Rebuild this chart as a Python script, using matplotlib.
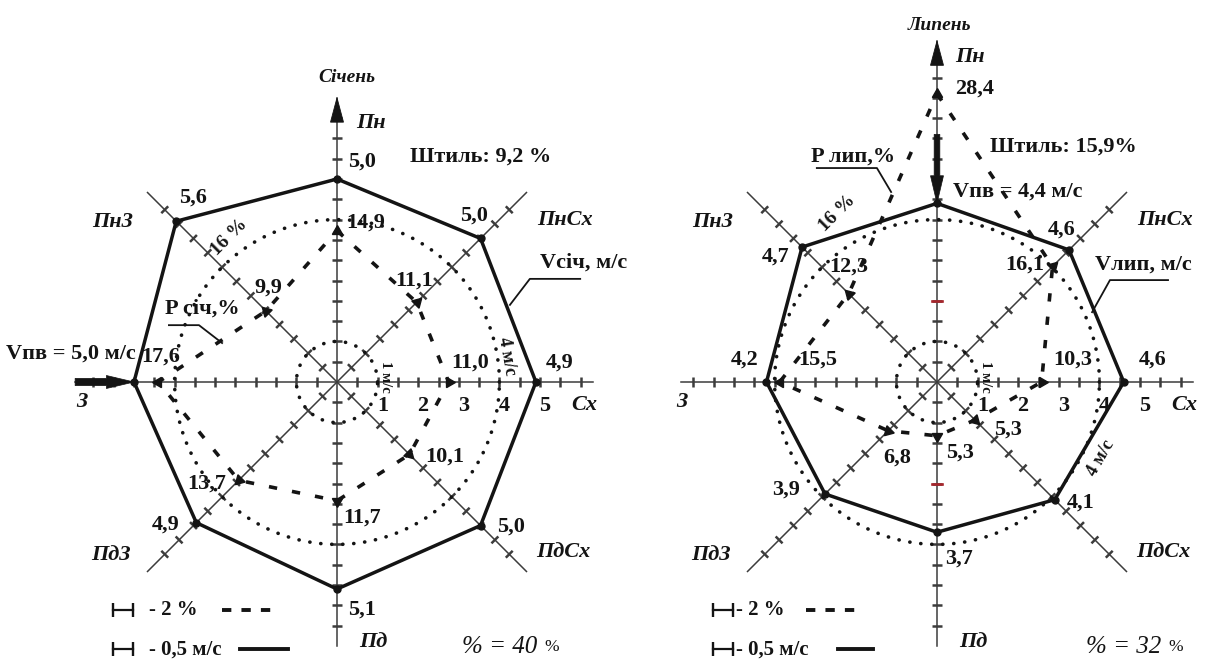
import numpy as np
import matplotlib

matplotlib.use("Agg")
import matplotlib.pyplot as plt
from matplotlib.collections import LineCollection

plt.rcParams["font.family"] = ["Liberation Serif", "DejaVu Serif"]

# wind directions (compass bearings, clockwise from north)
DIRS = ["Пн", "ПнСх", "Сх", "ПдСх", "Пд", "ПдЗ", "З", "ПнЗ"]
BEARINGS = np.arange(0, 360, 45)

# January: mean speed (m/s) and frequency (%) by direction, calm share
JAN_SPEED = [5.0, 5.0, 4.9, 5.0, 5.1, 4.9, 5.0, 5.6]
JAN_FREQ = [14.9, 11.1, 11.0, 10.1, 11.7, 13.7, 17.6, 9.9]
JAN_CALM = 9.2
JAN_PREV = 6          # prevailing wind: west

# July
JUL_SPEED = [4.4, 4.6, 4.6, 4.1, 3.7, 3.9, 4.2, 4.7]
JUL_FREQ = [28.4, 16.1, 10.3, 5.3, 5.3, 6.8, 15.5, 12.3]
JUL_CALM = 15.9
JUL_PREV = 0          # prevailing wind: north

PCT_PER_MS = 4.0      # 2 % of frequency is drawn as long as 0.5 m/s

INK = "#141414"
AXIS = "#3c3c3c"
W, H, CY = 1211, 661, 382
S = 40.6              # pixels per 1 m/s

NUM = dict(fontsize=16, fontweight="bold", color=INK)
DIRF = dict(fontsize=16, fontweight="bold", fontstyle="italic", color=INK)


def pol(r, bearing):
    a = np.deg2rad(bearing)
    return np.asarray(r, float) * np.sin(a), np.asarray(r, float) * np.cos(a)


def comma(v):
    return f"{v:.1f}".replace(".", ",")


def panel_axes(fig, cx, x0, x1):
    ax = fig.add_axes([x0 / W, 0, (x1 - x0) / W, 1])
    ax.set_xlim((x0 - cx) / S, (x1 - cx) / S)
    ax.set_ylim((CY - H) / S, CY / S)
    ax.axis("off")
    return ax


def frame(ax, lay):
    ends = {0: lay["top"], 90: 6.3, 180: 6.5, 270: lay["west"]}
    h = 0.12
    for b in BEARINGS:
        x, y = pol(ends.get(b, 6.6), b)
        ax.plot([0, x], [0, y], color=AXIS, lw=1.1, zorder=2)
        rs = np.arange(0.5, (lay["tick_top"] if b == 0 else 6.0) + 0.01, 0.5)
        px, py = pol(rs, b)
        nx, ny = np.cos(np.deg2rad(b)), -np.sin(np.deg2rad(b))
        segs = [[(u - h * nx, v - h * ny), (u + h * nx, v + h * ny)] for u, v in zip(px, py)]
        ax.add_collection(LineCollection(segs, colors=AXIS, lw=1.8, zorder=2))
    for b, r in lay.get("red_ticks", []):
        x, y = pol(r, b)
        ax.plot([x - h, x + h], [y, y], color="#a8262c", lw=1.9, zorder=3)
    top = lay["top"]
    ax.arrow(0, top - 0.6, 0, 0.6, width=0, head_width=0.32, head_length=0.6,
             length_includes_head=True, fc=INK, ec=INK, lw=0.6, zorder=4)


def draw_panel(ax, speed, freq, calm, prev, lay):
    frame(ax, lay)

    th = np.linspace(0, 2 * np.pi, 400)
    for r in (1, 4):
        ax.plot(r * np.cos(th), r * np.sin(th), color=INK, lw=2.6,
                ls=(0, (0.05, 3.0)), dash_capstyle="round", zorder=3)

    # mean speed polygon
    sx, sy = pol(speed, BEARINGS)
    ax.plot(np.r_[sx, sx[0]], np.r_[sy, sy[0]], color=INK, lw=2.5, zorder=5)
    ax.plot(sx, sy, "o", color=INK, ms=5, zorder=6)

    # frequency polygon
    fx, fy = pol(np.asarray(freq) / PCT_PER_MS, BEARINGS)
    ax.plot(np.r_[fx, fx[0]], np.r_[fy, fy[0]], color=INK, lw=2.6,
            ls=(0, (2.3, 4.2)), zorder=5)
    for x, y, b in zip(fx, fy, BEARINGS):
        ax.plot(x, y, marker=(3, 0, -b), color=INK, ms=8.5, zorder=6)

    for i, (v, x, y) in enumerate(zip(speed, sx, sy)):
        if i != prev:
            ax.annotate(comma(v), (x, y), xytext=lay["spd_off"][i], textcoords="offset pixels",
                        ha="center", va="center", zorder=7, **NUM)
    for f, x, y, off in zip(freq, fx, fy, lay["frq_off"]):
        ax.annotate(comma(f), (x, y), xytext=off, textcoords="offset pixels",
                    ha="center", va="center", zorder=7, **NUM)

    # prevailing wind arrow
    b = BEARINGS[prev]
    x0, y0 = pol(lay["prev_from"], b)
    x1, y1 = pol(speed[prev], b)
    ax.arrow(x0, y0, x1 - x0, y1 - y0, width=lay["prev_w"], head_width=0.32, head_length=0.68,
             length_includes_head=True, fc=INK, ec=INK, lw=0.5, zorder=6)
    px, py, ha = lay["prev_txt"]
    ax.text(px, py, f"Vпв = {comma(speed[prev])} м/с", ha=ha, va="center", **NUM)

    # direction names
    for name, (x, y) in zip(DIRS, lay["dir_pos"]):
        ax.text(x, y, name, ha="center", va="center", **DIRF)
    ax.text(*lay["month_pos"], lay["month"], ha="center", va="center",
            fontsize=14, fontweight="bold", fontstyle="italic", color=INK)

    ax.text(*lay["calm_pos"], lay["calm_fmt"].format(comma(calm)), ha="left", va="center", **NUM)

    # speed scale numbers along the east axis
    for k in range(1, 6):
        ax.text(k + 0.12, -0.6, str(k), ha="center", va="center", **NUM)

    ax.text(1.2, 0.12, "1 м/с", rotation=-90, ha="center", va="center",
            fontsize=10.5, fontweight="bold", color=INK)
    fx4, fy4, rot4 = lay["four_pos"]
    ax.text(fx4, fy4, "4 м/с", rotation=rot4, ha="center", va="center",
            fontsize=13, fontweight="bold", color=INK)
    ax.text(*lay["p16_pos"], "16 %", rotation=45, ha="center", va="center",
            fontsize=14, fontweight="bold", color=INK)

    # callouts for the two polygons
    vx, vy = lay["v_txt"]
    ax.text(vx, vy, lay["v_label"], ha="left", va="center", **NUM)
    ax.plot(*np.array(lay["v_line"]).T, color=INK, lw=1.3, zorder=4)
    qx, qy = lay["p_txt"]
    ax.text(qx, qy, lay["p_label"], ha="left", va="center", **NUM)
    ax.plot(*np.array(lay["p_line"]).T, color=INK, lw=1.3, zorder=4)

    # scale legend
    bx = lay["leg_bar"]
    for (y, txt, seg, ls) in ((-5.62, "- 2 %", lay["leg_dash"], (0, (2.4, 2.6))),
                             (-6.58, "- 0,5 м/с", lay["leg_line"], "-")):
        ax.plot([bx, bx + 0.5], [y, y], color=INK, lw=1.6)
        ax.plot([bx, bx + 0.5], [y, y], ls="none", marker="|", ms=10, mew=1.7, color=INK)
        ax.text(lay["leg_txt"], y, txt, ha="left", va="center", fontsize=15,
                fontweight="bold", color=INK)
        ax.plot(seg, [y, y], color=INK, lw=2.8, ls=ls)

    tx, ty = lay["total_pos"]
    t = ax.text(tx, ty, lay["total"], ha="left", va="center", fontsize=18,
                fontstyle="italic", color=INK)
    ax.annotate("%", xy=(1, 0.12), xycoords=t, xytext=(5, 0), textcoords="offset points",
                ha="left", va="bottom", fontsize=12.5, color=INK)


DIR_POS = [(0.84, 6.38), (5.62, 3.99), (6.08, -0.57), (5.57, -4.19),
           (0.89, -6.40), (-5.57, -4.26), (-6.28, -0.49), (-5.52, 3.94)]

JAN_LAY = dict(
    top=7.0, tick_top=6.5, west=6.45,
    spd_off=[(25, 17), (-7, 23), (24, 19), (30, -1), (25, -21), (-31, -2), None, (17, 24)],
    frq_off=[(29, 8), (-3, 22), (21, 19), (35, -2), (25, -17), (-32, -3), (2, 25), (2, 23)],
    prev_from=6.45, prev_w=0.18, prev_txt=(-4.95, 0.71, "right"),
    dir_pos=DIR_POS, month="Січень", month_pos=(0.25, 7.49),
    calm_fmt="Штиль: {} %", calm_pos=(1.80, 5.54),
    four_pos=(4.19, 0.64, -80), p16_pos=(-2.64, 3.57),
    v_label="Vсіч, м/с", v_txt=(5.0, 2.93), v_line=[(4.26, 1.90), (4.75, 2.54), (5.99, 2.54)],
    p_label="P січ,%", p_txt=(-4.24, 1.82), p_line=[(-4.14, 1.40), (-3.40, 1.40), (-2.83, 0.96)],
    leg_bar=-5.52, leg_txt=-4.63, leg_dash=[-2.83, -1.55], leg_line=[-2.39, -1.21],
    total="% = 40", total_pos=(3.08, -6.53),
)

JUL_LAY = dict(
    top=8.4, tick_top=7.5, west=6.3, red_ticks=[(0, 2.0), (180, 2.5)],
    spd_off=[None, (-7, 20), (29, 22), (26, -3), (22, -26), (-39, 4), (-22, 22), (-27, -10)],
    frq_off=[(38, 5), (-28, 2), (31, 22), (33, -10), (23, -17), (9, -27), (38, 22), (0, 27)],
    prev_from=6.1, prev_w=0.14, prev_txt=(0.39, 4.68, "left"),
    dir_pos=[(0.81, 8.0)] + DIR_POS[1:], month="Липень", month_pos=(0.07, 8.79),
    calm_fmt="Штиль: {}%", calm_pos=(1.31, 5.79),
    four_pos=(4.04, -1.87, 60), p16_pos=(-2.46, 4.16),
    v_label="Vлип, м/с", v_txt=(3.89, 2.88), v_line=[(3.82, 1.72), (4.26, 2.51), (5.69, 2.51)],
    p_label="P лип,%", p_txt=(-3.1, 5.54), p_line=[(-2.96, 5.27), (-1.48, 5.27), (-1.13, 4.68)],
    leg_bar=-5.52, leg_txt=-4.95, leg_dash=[-3.23, -1.85], leg_line=[-2.44, -1.58],
    total="% = 32", total_pos=(3.67, -6.53),
)


def main():
    fig = plt.figure(figsize=(W / 100, H / 100), dpi=100, facecolor="white")
    ax_jan = panel_axes(fig, 337, 0, 606)
    ax_jul = panel_axes(fig, 937, 606, W)
    draw_panel(ax_jan, JAN_SPEED, JAN_FREQ, JAN_CALM, JAN_PREV, JAN_LAY)
    draw_panel(ax_jul, JUL_SPEED, JUL_FREQ, JUL_CALM, JUL_PREV, JUL_LAY)
    fig.savefig("out.png", dpi=100, facecolor="white")


if __name__ == "__main__":
    main()
